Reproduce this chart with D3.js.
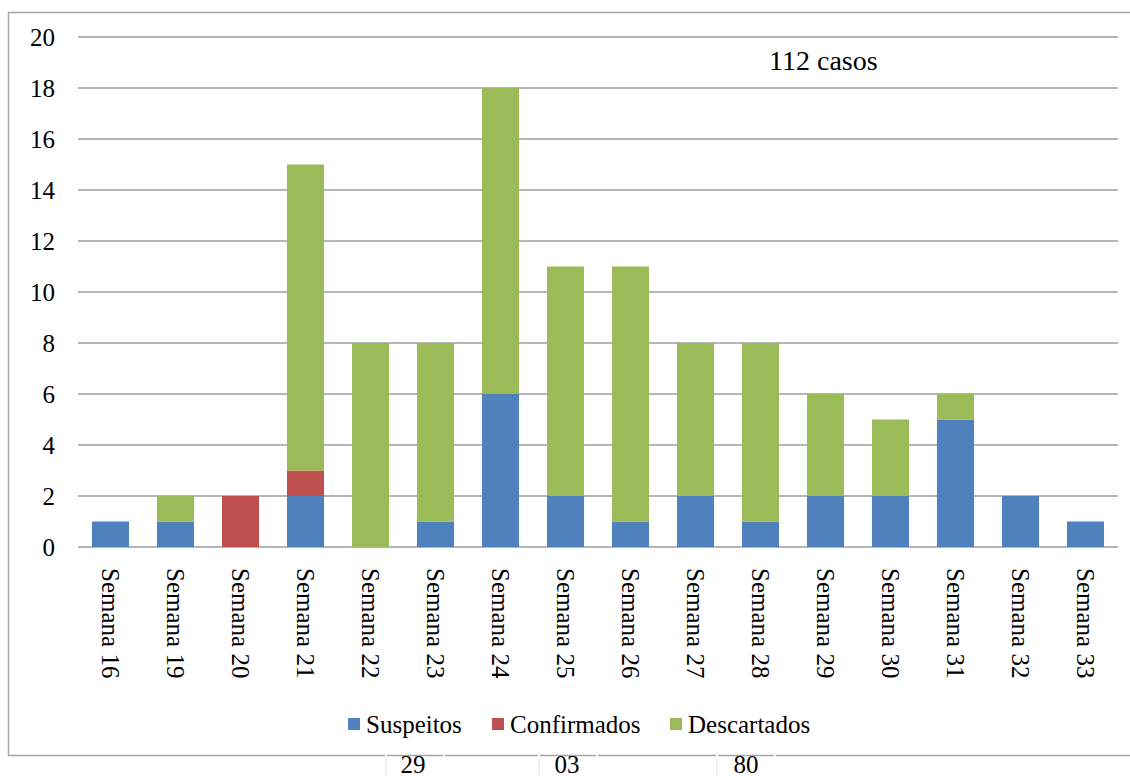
<!DOCTYPE html>
<html>
<head>
<meta charset="utf-8">
<script src="https://cdn.jsdelivr.net/npm/d3@7"></script>
</head>
<body style="margin:0">
<svg id="chart" width="1130" height="776" style="display:block"></svg>
<script>
// Weekly case counts by classification
const categories = ["Semana 16", "Semana 19", "Semana 20", "Semana 21", "Semana 22", "Semana 23",
  "Semana 24", "Semana 25", "Semana 26", "Semana 27", "Semana 28", "Semana 29",
  "Semana 30", "Semana 31", "Semana 32", "Semana 33"];
const suspeitos   = [1, 1, 0, 2, 0, 1, 6, 2, 1, 2, 1, 2, 2, 5, 2, 1];
const confirmados = [0, 0, 2, 1, 0, 0, 0, 0, 0, 0, 0, 0, 0, 0, 0, 0];
const descartados = [0, 1, 0, 12, 8, 7, 12, 9, 10, 6, 7, 4, 3, 1, 0, 0];
const seriesNames = ["Suspeitos", "Confirmados", "Descartados"];
const seriesColors = ["#4F81BD", "#C0504D", "#9BBB59"];
const yTicks = [0, 2, 4, 6, 8, 10, 12, 14, 16, 18, 20];
const totalLabel = "112 casos";
const footerTotals = ["29", "03", "80"];

const FONT = "'Liberation Serif'";
const svg = d3.select("#chart");
const margin = { left: 78, right: 1118, top: 37, bottom: 547 };

const x = d3.scaleBand().domain(categories).range([margin.left, margin.right])
  .paddingInner(0.43).paddingOuter(0.215);
const y = d3.scaleLinear().domain([0, 20]).range([margin.bottom, margin.top]);

// serif text helper
function serif(sel, size) {
  return sel.style("font-family", FONT).attr("font-size", size).attr("fill", "#000");
}

// outer chart frame
svg.append("rect").attr("x", 8.5).attr("y", 12.5).attr("width", 1140).attr("height", 743)
  .attr("fill", "none").attr("stroke", "#a6a6a6").attr("stroke-width", 1.5);

// gridlines
svg.append("g").selectAll("line").data(yTicks).join("line")
  .attr("x1", margin.left).attr("x2", margin.right)
  .attr("y1", d => y(d)).attr("y2", d => y(d))
  .attr("stroke", "#9e9e9e").attr("stroke-width", 1.6);

// value labels
serif(svg.append("g").selectAll("text").data(yTicks).join("text")
  .attr("x", 55).attr("y", d => y(d)).attr("dy", "0.34em")
  .attr("text-anchor", "end").text(d => d), 25);

// stacked bars
const rows = categories.map((c, i) => ({
  cat: c, Suspeitos: suspeitos[i], Confirmados: confirmados[i], Descartados: descartados[i]
}));
const stack = d3.stack().keys(seriesNames)(rows);
svg.append("g").selectAll("g").data(stack).join("g")
  .attr("fill", (d, i) => seriesColors[i])
  .selectAll("rect").data(d => d.filter(s => s[1] > s[0])).join("rect")
  .attr("x", d => x(d.data.cat))
  .attr("width", x.bandwidth())
  .attr("y", d => y(d[1]))
  .attr("height", d => y(d[0]) - y(d[1]));

// category labels, rotated to read downward
serif(svg.append("g").selectAll("text").data(categories).join("text")
  .attr("transform", d => `translate(${x(d) + x.bandwidth() / 2 - 8.5},568) rotate(90)`)
  .attr("text-anchor", "start")
  .text(d => d), 25);

// total label
serif(svg.append("text").attr("x", 769).attr("y", 70).text(totalLabel), 28);

// legend
const legendX = [348, 492, 670];
const lg = svg.append("g").selectAll("g").data(seriesNames).join("g")
  .attr("transform", (d, i) => `translate(${legendX[i]},718)`);
lg.append("rect").attr("width", 12).attr("height", 12).attr("fill", (d, i) => seriesColors[i]);
serif(lg.append("text").attr("x", 18).attr("y", 15).text(d => d), 25);

// totals row below the frame
const footerX = [413, 567, 746];
const footerSep = [386, 539, 717];
svg.append("g").selectAll("line").data(footerSep).join("line")
  .attr("x1", d => d).attr("x2", d => d).attr("y1", 757).attr("y2", 776)
  .attr("stroke", "#e4e4e4").attr("stroke-width", 1);
svg.append("g").selectAll("line").data(footerSep.concat(footerSep.map(v => v + 58))).join("line")
  .attr("x1", d => d).attr("x2", d => d).attr("y1", 752).attr("y2", 759)
  .attr("stroke", "#fff").attr("stroke-width", 2);
serif(svg.append("g").selectAll("text").data(footerTotals).join("text")
  .attr("x", (d, i) => footerX[i]).attr("y", 773)
  .attr("text-anchor", "middle")
  .text(d => d), 25);
</script>
</body>
</html>
